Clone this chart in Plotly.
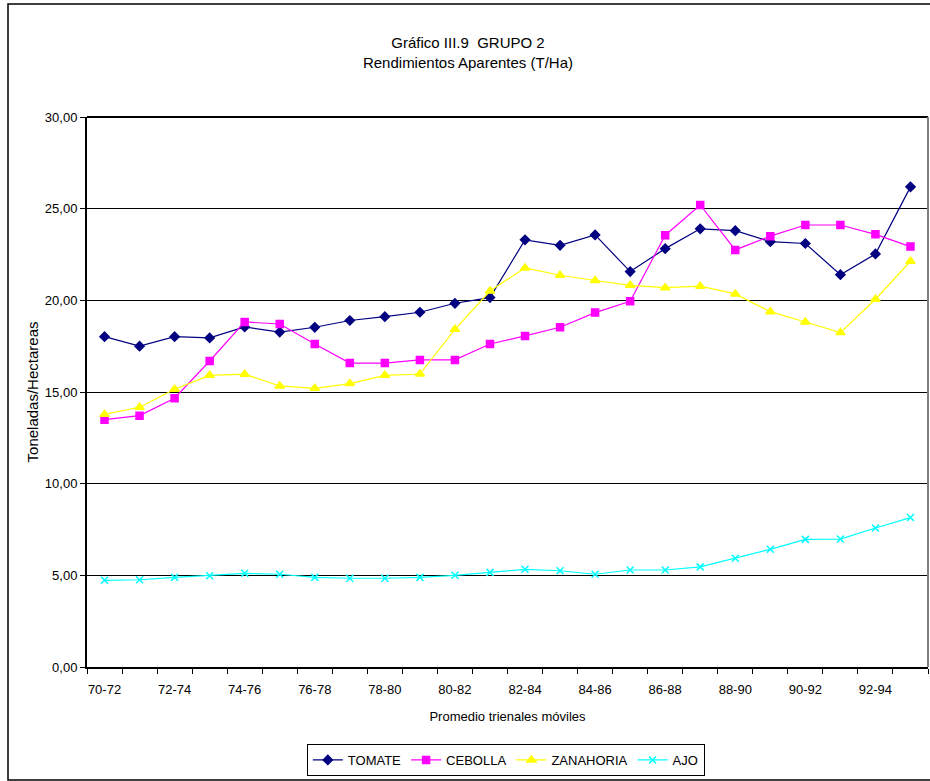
import plotly.graph_objects as go

# Promedios trienales móviles
periodos = ["70-72", "71-73", "72-74", "73-75", "74-76", "75-77", "76-78", "77-79",
            "78-80", "79-81", "80-82", "81-83", "82-84", "83-85", "84-86", "85-87",
            "86-88", "87-89", "88-90", "89-91", "90-92", "91-93", "92-94", "93-95"]

tomate = [18.02, 17.50, 18.02, 17.95, 18.55, 18.27, 18.53, 18.90, 19.11, 19.35, 19.84, 20.15,
          23.30, 23.00, 23.57, 21.57, 22.82, 23.90, 23.80, 23.20, 23.10, 21.40, 22.53, 26.19]
cebolla = [13.49, 13.71, 14.66, 16.69, 18.82, 18.71, 17.62, 16.58, 16.58, 16.75, 16.75, 17.62,
           18.06, 18.53, 19.33, 19.95, 23.55, 25.20, 22.75, 23.50, 24.11, 24.11, 23.60, 22.93]
zanahoria = [13.78, 14.17, 15.15, 15.91, 15.97, 15.33, 15.20, 15.46, 15.91, 15.98, 18.42, 20.51,
             21.77, 21.37, 21.08, 20.82, 20.69, 20.77, 20.35, 19.38, 18.82, 18.24, 20.06, 22.13]
ajo = [4.73, 4.76, 4.89, 4.98, 5.11, 5.06, 4.89, 4.84, 4.84, 4.89, 5.00, 5.16,
       5.33, 5.25, 5.06, 5.29, 5.29, 5.46, 5.93, 6.42, 6.96, 6.98, 7.58, 8.15]

idx = list(range(len(periodos)))

series = [
    ("TOMATE", tomate, "#000080", "diamond", 7),
    ("CEBOLLA", cebolla, "#FF00FF", "square", 7),
    ("ZANAHORIA", zanahoria, "#FFFF00", "triangle-up", 8),
    ("AJO", ajo, "#00FFFF", "x-thin-open", 7),
]

fig = go.Figure()
for nombre, vals, color, simbolo, tam in series:
    fig.add_trace(go.Scatter(
        x=idx, y=vals, name=nombre, mode="lines+markers",
        line=dict(color=color, width=1.2),
        marker=dict(symbol=simbolo, size=tam, color=color,
                    line=dict(color=color, width=1.5)),
    ))

# coordenadas del área de trazado (px)
L, R, T, B = 87, 928, 117, 667
W, H = 930, 781
pw, ph = R - L, B - T

def px_x(v):
    return (v - L) / pw

def px_y(v):
    return (B - v) / ph

fig.update_layout(
    width=W, height=H,
    margin=dict(l=L, r=W - R, t=T, b=H - B, pad=0, autoexpand=False),
    paper_bgcolor="white", plot_bgcolor="white",
    separators=",.",
    font=dict(family="Liberation Sans, Arial, sans-serif", size=13, color="black"),
    title=dict(text="Gráfico III.9  GRUPO 2<br>Rendimientos Aparentes (T/Ha)",
               x=468 / W, xanchor="center", y=1 - 48 / H, yanchor="middle",
               font=dict(size=15)),
    showlegend=True,
    legend=dict(orientation="h", x=0.498, xanchor="center", y=px_y(760), yanchor="middle",
                bordercolor="black", borderwidth=1, bgcolor="white",
                font=dict(size=13), itemwidth=30, tracegroupgap=0),
    xaxis=dict(
        range=[-0.5, len(periodos) - 0.5], automargin=False,
        tickmode="array", tickvals=idx[::2], ticktext=periodos[::2],
        ticks="", showgrid=False, zeroline=False,
        showline=True, linecolor="black", linewidth=2,
        minor=dict(tickmode="array", tickvals=[i - 0.5 for i in range(len(periodos) + 1)],
                   ticks="outside", ticklen=5, tickcolor="black", tickwidth=1, showgrid=False),
        title=dict(text="Promedio trienales móviles", standoff=16, font=dict(size=13)),
        ticklabelstandoff=9,
    ),
    yaxis=dict(
        range=[0, 30], dtick=5, tickformat=".2f", automargin=False,
        ticks="outside", ticklen=5, tickcolor="black",
        showgrid=True, gridcolor="black", gridwidth=1, zeroline=False,
        showline=True, linecolor="black", linewidth=2,
        title=dict(text="Toneladas/Hectareas", standoff=3, font=dict(size=15)),
    ),
    shapes=[
        # borde superior y derecho del área
        dict(type="line", xref="paper", yref="paper", x0=0, x1=1, y0=1, y1=1,
             line=dict(color="black", width=2)),
        dict(type="line", xref="paper", yref="paper", x0=1, x1=1, y0=0, y1=1,
             line=dict(color="#808080", width=2)),
        # marco exterior
        dict(type="rect", xref="paper", yref="paper",
             x0=px_x(8), x1=px_x(940), y0=px_y(780), y1=px_y(4),
             line=dict(color="black", width=1.5), layer="below"),
    ],
)

# quitar el margen del body para que la figura empiece en (0,0)
fig.write_html("out.html", config={"displayModeBar": False},
               post_script="document.body.style.margin='0';document.body.style.overflow='hidden';")
